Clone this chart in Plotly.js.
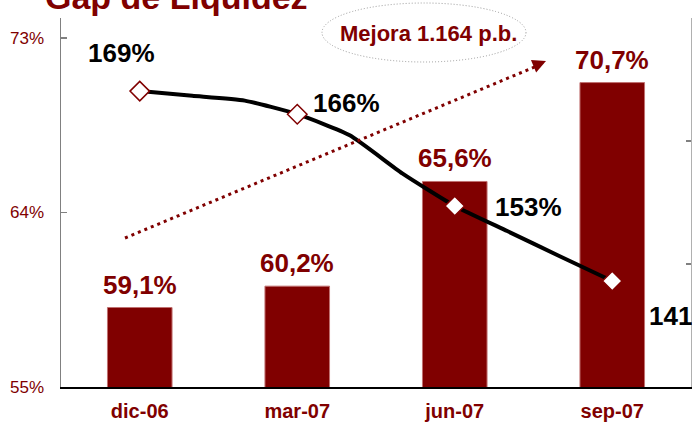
<!DOCTYPE html>
<html>
<head>
<meta charset="utf-8">
<script src="https://cdn.plot.ly/plotly-3.0.1.min.js"></script>
<style>html,body{margin:0;padding:0;background:#fff;}#chart{width:692px;height:423px;}</style>
</head>
<body>
<div id="chart"></div>
<script>
// ---- data ----
const categories = ['dic-06', 'mar-07', 'jun-07', 'sep-07'];
const gapValues = [59.1, 60.2, 65.6, 70.7];
const gapLabels = ['59,1%', '60,2%', '65,6%', '70,7%'];
const months = ['dic-06', 'ene-07', 'feb-07', 'mar-07', 'abr-07', 'may-07', 'jun-07', 'jul-07', 'ago-07', 'sep-07'];
const ratioMonthly = [169.3, 168.6, 167.9, 165.9, 162.8, 157.2, 152.4, 148.7, 145.0, 141.35];
const ratioLabels = ['169%', '166%', '153%', '141%'];
const leftTicks = [55, 64, 73];
const leftTickLabels = ['55%', '64%', '73%'];
const titleText = 'Gap de Liquidez';
const noteText = 'Mejora 1.164 p.b.';

// ---- derived ----
const RED = '#800000';
const FONT = 'Liberation Sans, Arial, sans-serif';
const catX = categories.map((c, i) => i);
const monthX = months.map((m, i) => i / 3);
const quarterIdx = categories.map(c => months.indexOf(c));
const ratioQuarter = quarterIdx.map(i => ratioMonthly[i]);

// pixel helpers for decorative elements (plot area 61..691 x 18..387)
const PL = 61, PR = 691, PT = 18, PB = 387;
const px = x => (x - PL) / (PR - PL);
const py = y => (PB - y) / (PB - PT);

const y2min = 125.75, y2max = 180.06;
const y2step = (y2max - y2min) / 3;

const traces = [
  {
    type: 'bar', x: catX, y: gapValues, width: 0.41,
    marker: {color: RED, line: {color: '#c07070', width: 1}},
    hoverinfo: 'skip'
  },
  {
    type: 'scatter', mode: 'lines', x: monthX, y: ratioMonthly, yaxis: 'y2',
    line: {color: '#000', width: 4, shape: 'spline', smoothing: 0.5},
    hoverinfo: 'skip'
  },
  {
    type: 'scatter', mode: 'markers', x: quarterIdx.map(i => monthX[i]), y: ratioQuarter, yaxis: 'y2',
    marker: {symbol: 'diamond', size: 15, color: '#fff', line: {color: RED, width: 1.5}},
    hoverinfo: 'skip'
  }
];

const annotations = [];
gapValues.forEach((v, i) => {
  annotations.push({
    x: catX[i], y: v, xref: 'x', yref: 'y', text: gapLabels[i], showarrow: false,
    yanchor: 'bottom', yshift: 6,
    font: {family: FONT, size: 26, color: RED, weight: 'bold'}
  });
});
const lblOff = [[-18, 38, 'center'], [49, 11, 'center'], [74, -1, 'center'], [35, -35, 'left']];
ratioQuarter.forEach((v, i) => {
  annotations.push({
    x: quarterIdx.map(k => monthX[k])[i], y: v, xref: 'x', yref: 'y2', text: ratioLabels[i],
    showarrow: false, xanchor: lblOff[i][2], xshift: lblOff[i][0], yshift: lblOff[i][1],
    font: {family: FONT, size: 26, color: '#000', weight: 'bold'}
  });
});
annotations.push({
  xref: 'paper', yref: 'paper', x: px(43), y: py(-3), xanchor: 'left', yanchor: 'middle',
  text: titleText, showarrow: false,
  font: {family: FONT, size: 34, color: RED, weight: 'bold'}
});
annotations.push({
  xref: 'paper', yref: 'paper', x: px(428), y: py(33), xanchor: 'center', yanchor: 'middle',
  text: noteText, showarrow: false,
  font: {family: FONT, size: 22, color: RED, weight: 'bold'}
});
annotations.push({
  xref: 'paper', yref: 'paper', x: px(546), y: py(61), text: '', showarrow: true,
  axref: 'pixel', ayref: 'pixel', ax: -12, ay: 5, arrowhead: 2, arrowsize: 0.9,
  arrowwidth: 3, arrowcolor: RED, standoff: 0
});

const shapes = [
  {type: 'circle', xref: 'paper', yref: 'paper', x0: px(322), x1: px(526), y0: py(62), y1: py(3),
   line: {color: '#9a9a9a', width: 1, dash: '1px,2px'}},
  {type: 'line', xref: 'paper', yref: 'paper', x0: px(125), y0: py(238), x1: px(537), y1: py(66),
   line: {color: RED, width: 3, dash: '3px,4px'}}
];

const layout = {
  width: 692, height: 423,
  margin: {l: PL, r: 692 - PR, t: PT, b: 423 - PB, pad: 0},
  paper_bgcolor: '#fff', plot_bgcolor: '#fff',
  showlegend: false,
  xaxis: {
    range: [-0.5, 3.5], tickvals: catX, ticktext: categories,
    tickfont: {family: FONT, size: 20, color: RED, weight: 'bold'},
    showline: true, linecolor: '#000', linewidth: 1.5, ticks: '',
    showgrid: false, zeroline: false, fixedrange: true, ticklabelstandoff: 5
  },
  yaxis: {
    range: [55, 74.03], tickvals: leftTicks, ticktext: leftTickLabels,
    tickfont: {family: FONT, size: 17, color: RED},
    ticks: 'inside', ticklen: 6, tickcolor: '#808080', tickwidth: 1.5,
    showline: true, linecolor: '#808080', linewidth: 1.5,
    showgrid: false, zeroline: false, ticklabelstandoff: 12
  },
  yaxis2: {
    overlaying: 'y', side: 'right', range: [y2min, y2max],
    tickvals: [0, 1, 2, 3].map(k => y2min + k * y2step),
    showticklabels: false, ticks: 'inside', ticklen: 5, tickcolor: '#808080', tickwidth: 1.5,
    showline: true, linecolor: '#b0b0b0', linewidth: 1,
    showgrid: false, zeroline: false
  },
  annotations: annotations,
  shapes: shapes
};

Plotly.newPlot('chart', traces, layout, {staticPlot: true, displayModeBar: false});
</script>
</body>
</html>
